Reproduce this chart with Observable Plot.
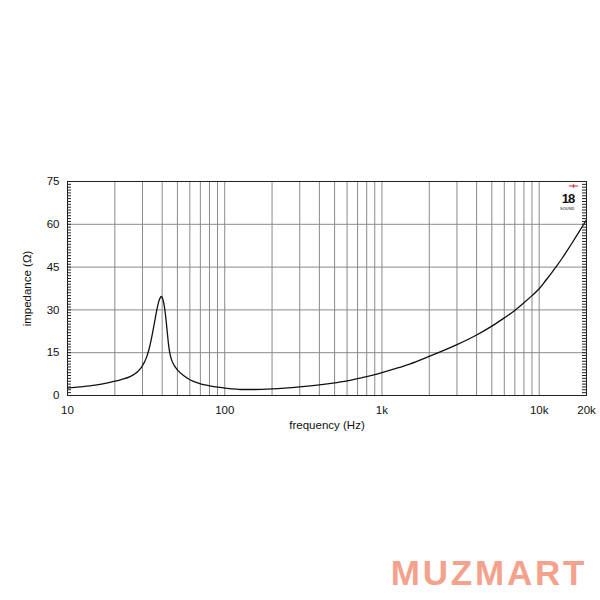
<!DOCTYPE html>
<html>
<head>
<meta charset="utf-8">
<script src="https://cdn.jsdelivr.net/npm/d3@7"></script>
<script src="https://cdn.jsdelivr.net/npm/@observablehq/plot@0.6"></script>
<style>
  html, body { margin: 0; padding: 0; background: #fff; }
</style>
</head>
<body>
<div id="chart"></div>
<script>
// Impedance curve (frequency in Hz, impedance in ohms)
const freq = [10, 12, 15, 18, 20, 22, 25, 27, 28, 29, 30, 31, 32, 33, 34, 35, 36, 37, 38, 39, 39.5, 40, 41, 42, 43, 44, 45, 46, 47, 48, 50, 55, 60, 70, 80, 90, 100, 120, 130, 150, 200, 300, 400, 500, 600, 700, 800, 900, 1000, 1200, 1500, 2000, 3000, 4000, 5000, 6000, 7000, 8000, 9000, 10000, 11000, 12000, 13000, 14000, 15000, 16000, 17000, 18000, 19000, 20000];
const impedance = [2.6, 3.0, 3.6, 4.4, 5.0, 5.6, 6.6, 7.7, 8.4, 9.3, 10.5, 11.9, 13.8, 16.2, 19.3, 22.8, 26.5, 30.0, 32.8, 34.4, 34.7, 34.4, 32.3, 28.3, 22.8, 17.5, 14.2, 12.4, 11.2, 10.3, 9.0, 6.9, 5.5, 4.1, 3.4, 2.9, 2.6, 2.2, 2.1, 2.1, 2.3, 3.0, 3.7, 4.4, 5.1, 5.9, 6.6, 7.3, 8.0, 9.3, 11.0, 13.7, 17.8, 21.2, 24.3, 27.2, 29.8, 32.5, 35.0, 37.4, 40.3, 43.0, 45.6, 48.1, 50.6, 53.0, 55.3, 57.5, 59.6, 61.6];

// Axis ticks and labels
const xTickValues = [10, 100, 1000, 10000, 20000];
const xTickLabels = ["10", "100", "1k", "10k", "20k"];
const xGridValues = [20, 30, 40, 50, 60, 70, 80, 90, 100, 200, 300, 400, 500, 600, 700, 800, 900, 1000, 2000, 3000, 4000, 5000, 6000, 7000, 8000, 9000, 10000];
const yTickValues = [0, 15, 30, 45, 60, 75];
const yGridValues = [15, 30, 45, 60];
const yMinorTicks = [];
for (let v = 0; v <= 75; v++) yMinorTicks.push(v);

const xLabel = "frequency (Hz)";
const yLabel = "impedance (Ω)";
const logoNumber = "18";
const logoWord = "SOUND";
const watermark = "MUZMART";

const data = freq.map((f, i) => ({f, z: impedance[i]}));
const xFmt = d => xTickLabels[xTickValues.indexOf(d)];

// small red emblem of the logo (diamond with a bar)
const emblem = {
  draw(ctx, size) {
    const r = Math.sqrt(size) / 2;
    ctx.moveTo(0, -r); ctx.lineTo(r * 0.75, 0); ctx.lineTo(0, r); ctx.lineTo(-r * 0.75, 0); ctx.closePath();
    ctx.moveTo(-2.4 * r, -0.4); ctx.lineTo(2.4 * r, -0.4); ctx.lineTo(2.4 * r, 0.4); ctx.lineTo(-2.4 * r, 0.4); ctx.closePath();
  }
};

const frameW = 600 - 67 - 14;

const chart = Plot.plot({
  width: 600,
  height: 600,
  marginLeft: 67,
  marginRight: 14,
  marginTop: 181,
  marginBottom: 205,
  style: {fontFamily: "'Liberation Sans', Arial, sans-serif", fontSize: "11.5px", color: "#111", background: "#fff"},
  x: {type: "log", domain: [10, 20000]},
  y: {domain: [0, 75]},
  marks: [
    Plot.gridX(xGridValues, {stroke: "#8a8a8a", strokeOpacity: 1, strokeWidth: 1}),
    Plot.gridY(yGridValues, {stroke: "#8a8a8a", strokeOpacity: 1, strokeWidth: 1}),
    Plot.line(data, {x: "f", y: "z", stroke: "#111", strokeWidth: 1.3, curve: "monotone-x"}),
    // inward minor ticks on left and right edges
    Plot.tickY(yMinorTicks, {y: d => d, insetRight: frameW - 4, stroke: "#222", strokeWidth: 1}),
    Plot.tickY(yMinorTicks, {y: d => d, insetLeft: frameW - 4, stroke: "#222", strokeWidth: 1}),
    Plot.frame({stroke: "#222", strokeWidth: 1}),
    Plot.axisY(yTickValues, {anchor: "left", tickSize: 0, tickPadding: 8, label: null}),
    Plot.axisX(xTickValues, {anchor: "bottom", tickSize: 0, tickPadding: 10, tickFormat: xFmt, label: null}),
    Plot.text([xLabel], {frameAnchor: "bottom", dy: 33, text: d => d, fontSize: 11.5}),
    Plot.text([yLabel], {frameAnchor: "left", dx: -40, rotate: -90, textAnchor: "middle", text: d => d, fontSize: 11.5}),
    // logo
    Plot.dot([0], {frameAnchor: "top-right", dx: -13, dy: 4.5, symbol: emblem, r: 2.2, fill: "#e0303a", stroke: "none"}),
    Plot.text([logoNumber], {frameAnchor: "top-right", dx: -12, dy: 12.5, text: d => d, fontSize: 13, fontWeight: "bold", fill: "#111"}),
    Plot.text([logoWord], {frameAnchor: "top-right", dx: -12, dy: 25.5, text: d => d, fontSize: 4, fontWeight: "bold", fill: "#666"}),
    // watermark
    Plot.text([watermark], {frameAnchor: "bottom-right", dx: 0.8, dy: 189, textAnchor: "end", text: d => d, fontSize: 35, fontWeight: "bold", fill: "#f4a28c", fontFamily: "'Liberation Sans', Arial, sans-serif"})
  ]
});
// spread the watermark letters a little
d3.select(chart).selectAll("text")
  .filter(function() { return this.textContent === watermark; })
  .attr("letter-spacing", 2.8);
d3.select(chart).selectAll("text")
  .filter(function() { return this.textContent === logoNumber; })
  .attr("letter-spacing", -0.8);
document.getElementById("chart").appendChild(chart);
</script>
</body>
</html>
